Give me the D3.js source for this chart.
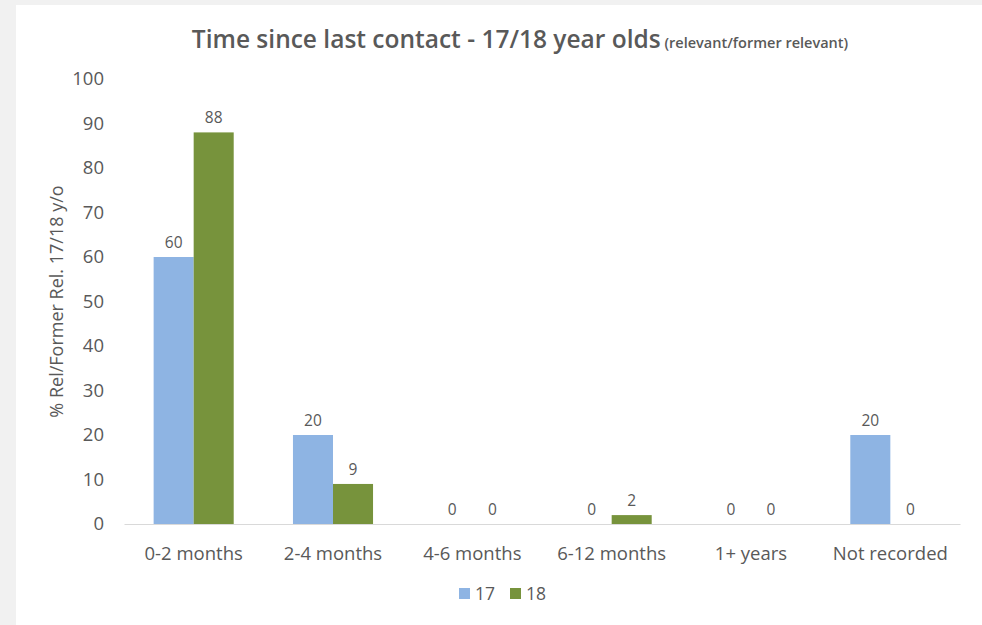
<!DOCTYPE html>
<html>
<head>
<meta charset="utf-8">
<script src="https://cdn.jsdelivr.net/npm/d3@7"></script>
<style>
  html, body { margin: 0; padding: 0; background: #f1f1f1; }
  svg { display: block; }
  text { font-family: "Open Sans", "Noto Sans", sans-serif; fill: #595959; }
</style>
</head>
<body>
<svg id="chart" width="982" height="625"></svg>
<script>
// Chart data
const categories = ["0-2 months", "2-4 months", "4-6 months", "6-12 months", "1+ years", "Not recorded"];
const seriesNames = ["17", "18"];
const values17 = [60, 20, 0, 0, 0, 20];
const values18 = [88, 9, 0, 2, 0, 0];
const yTicks = [0, 10, 20, 30, 40, 50, 60, 70, 80, 90, 100];
const colors = ["#8EB4E3", "#77933C"];

const svg = d3.select("#chart");
const W = 982, H = 625;

// white chart panel
svg.append("rect").attr("x", 16).attr("y", 5).attr("width", W - 16).attr("height", H - 5).attr("fill", "#ffffff");

const margin = { left: 124, right: 22, top: 79, bottom: 101 };
const plotW = W - margin.left - margin.right;
const y0 = H - margin.bottom;

const x = d3.scaleBand().domain(categories).range([margin.left, margin.left + plotW]).paddingInner(0).paddingOuter(0);
const xs = d3.scaleBand().domain(seriesNames).range([0, x.bandwidth()]).paddingInner(0).paddingOuter(0.74);
const y = d3.scaleLinear().domain([0, 100]).range([y0, margin.top]);

// Title
const title = svg.append("text")
  .attr("x", 520).attr("y", 48)
  .attr("text-anchor", "middle");
title.append("tspan").text("Time since last contact - 17/18 year olds")
  .attr("font-size", 24.5).attr("font-weight", 600);
title.append("tspan").text(" (relevant/former relevant)")
  .attr("font-size", 14.5).attr("font-weight", 600);

// Y axis (labels only)
const yAxis = d3.axisLeft(y).tickValues(yTicks).tickSize(0).tickPadding(0);
const gy = svg.append("g").attr("transform", `translate(104,0)`).call(yAxis);
gy.select(".domain").remove();
gy.selectAll("text").attr("font-size", 18.5).attr("fill", "#595959")
  .style("font-family", "'Open Sans', 'Noto Sans', sans-serif");

// Y axis title
svg.append("text")
  .attr("transform", `translate(63,${(y(100) + y(0)) / 2}) rotate(-90)`)
  .attr("text-anchor", "middle")
  .attr("font-size", 18)
  .text("% Rel/Former Rel. 17/18 y/o");

// Bars
const rows = categories.map((c, i) => ({ cat: c, vals: [values17[i], values18[i]] }));
const groups = svg.append("g").selectAll("g").data(rows).join("g")
  .attr("transform", d => `translate(${x(d.cat)},0)`);

groups.selectAll("rect").data(d => d.vals.map((v, j) => ({ v, s: seriesNames[j], j })))
  .join("rect")
  .attr("x", d => xs(d.s))
  .attr("width", xs.bandwidth())
  .attr("y", d => y(d.v))
  .attr("height", d => y0 - y(d.v))
  .attr("fill", d => colors[d.j]);

groups.selectAll("text.lbl").data(d => d.vals.map((v, j) => ({ v, s: seriesNames[j] })))
  .join("text")
  .attr("class", "lbl")
  .attr("x", d => xs(d.s) + xs.bandwidth() / 2)
  .attr("y", d => y(d.v) - 9)
  .attr("text-anchor", "middle")
  .attr("font-size", 15.5)
  .attr("fill", "#404040")
  .text(d => d.v);

// X axis
const xAxis = d3.axisBottom(x).tickSize(0).tickPadding(0);
const gx = svg.append("g").attr("transform", `translate(0,${y0})`).call(xAxis);
gx.select(".domain").attr("stroke", "#d9d9d9").attr("stroke-width", 1);
gx.selectAll("text").attr("font-size", 18.5).attr("fill", "#595959").attr("dy", 0).attr("y", 36)
  .style("font-family", "'Open Sans', 'Noto Sans', sans-serif");

// Legend
const legend = svg.append("g").attr("transform", "translate(459,588)");
const items = legend.selectAll("g").data(seriesNames).join("g")
  .attr("transform", (d, i) => `translate(${i * 51},0)`);
items.append("rect").attr("width", 11).attr("height", 11).attr("fill", (d, i) => colors[i]);
items.append("text").attr("x", 16).attr("y", 12).attr("font-size", 17.5).text(d => d);
</script>
</body>
</html>
